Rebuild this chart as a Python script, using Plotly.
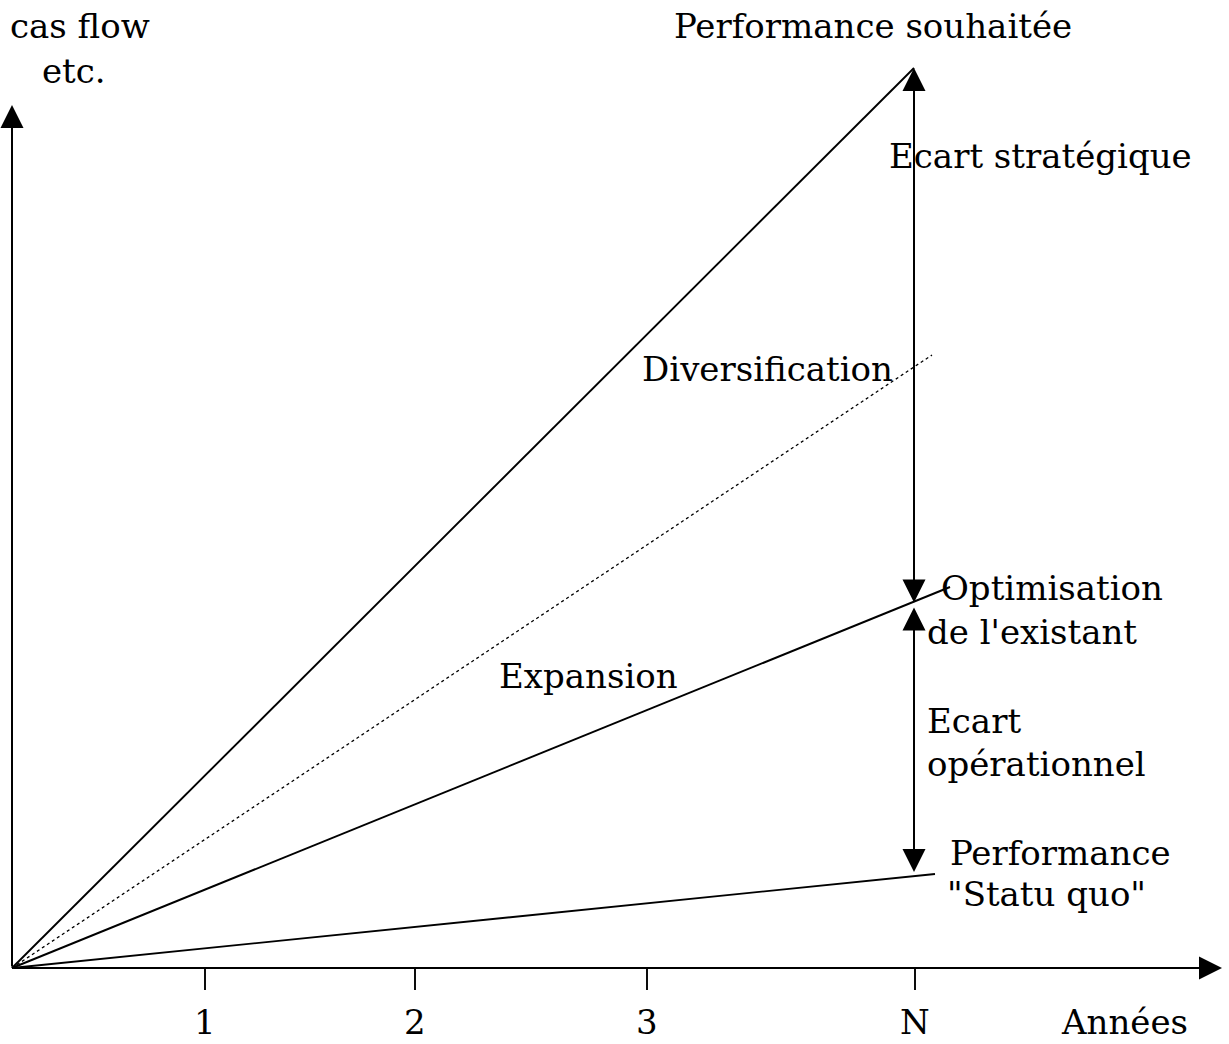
import plotly.graph_objects as go

# --- data (arbitrary performance units; x in "year" units of the diagram) ---
origin = (0.0, 0.0)
line_names = ["Performance souhaitée", "Diversification", "Optimisation", "Statu quo"]
line_end_x = [9.02, 9.20, 9.38, 9.23]
line_end_y = [9.00, 6.13, 3.81, 0.94]
line_dash = ["solid", "dot", "solid", "solid"]

tick_labels = ["1", "2", "3", "N"]
tick_pos = [1.93, 4.03, 6.35, 9.03]

gap_x = 9.02
gap_strat = (3.64, 9.00)
gap_oper = (3.62, 0.96)

x_axis_end = 12.10
y_axis_end = 8.63

FONT = "DejaVu Serif"
FS = 34

fig = go.Figure()

for name, ex, ey, d in zip(line_names, line_end_x, line_end_y, line_dash):
    fig.add_trace(go.Scatter(x=[origin[0], ex], y=[origin[1], ey], mode="lines",
                             line=dict(color="black", width=1.9 if d == "solid" else 1.3, dash=d),
                             name=name, hoverinfo="skip", showlegend=False))

# ticks
for tp in tick_pos:
    fig.add_shape(type="line", x0=tp, x1=tp, y0=0, y1=-0.22, line=dict(color="black", width=1.9))

AS = 2.3
AW = 2
anns = []
# axes with arrows
anns.append(dict(x=x_axis_end, y=0, ax=0, ay=0, xref="x", yref="y", axref="x", ayref="y",
                 showarrow=True, arrowhead=2, arrowsize=AS, arrowwidth=AW, arrowcolor="black", text=""))
anns.append(dict(x=0, y=y_axis_end, ax=0, ay=0, xref="x", yref="y", axref="x", ayref="y",
                 showarrow=True, arrowhead=2, arrowsize=AS, arrowwidth=AW, arrowcolor="black", text=""))
# gap arrows
for (a, b) in [gap_strat, gap_oper]:
    anns.append(dict(x=gap_x, y=b, ax=gap_x, ay=a, xref="x", yref="y", axref="x", ayref="y",
                     showarrow=True, arrowhead=2, startarrowhead=2, arrowside="end+start",
                     arrowsize=AS, startarrowsize=AS, arrowwidth=AW, arrowcolor="black", text=""))

# tick labels
for lab, tp in zip(tick_labels, tick_pos):
    anns.append(dict(x=tp, y=-0.54, text=lab, showarrow=False, xanchor="center", yanchor="middle"))
anns.append(dict(x=11.12, y=-0.54, text="Années", showarrow=False, xanchor="center", yanchor="middle"))

texts = [
    (8.61, 9.42, "Performance souhaitée", "center"),
    (8.75, 8.12, "Ecart stratégique", "left"),
    (6.28, 5.99, "Diversification", "left"),
    (9.27, 3.80, "Optimisation", "left"),
    (9.13, 3.36, "de l'existant", "left"),
    (4.85, 2.92, "Expansion", "left"),
    (9.13, 2.47, "Ecart", "left"),
    (9.13, 2.04, "opérationnel", "left"),
    (9.36, 1.15, "Performance", "left"),
    (9.33, 0.74, "\"Statu quo\"", "left"),
    (1.40, 9.42, "cas flow", "right"),
    (0.96, 8.97, "etc.", "right"),
]
for x, y, t, anc in texts:
    anns.append(dict(x=x, y=y, text=t, showarrow=False, xanchor=anc, yanchor="middle"))

fig.update_layout(
    width=1229, height=1044,
    margin=dict(l=0, r=0, t=0, b=0),
    plot_bgcolor="white", paper_bgcolor="white",
    font=dict(family=FONT, size=FS, color="black"),
    xaxis=dict(range=[-0.12, 12.17], visible=False, fixedrange=True),
    yaxis=dict(range=[-0.76, 9.68], visible=False, fixedrange=True),
    annotations=anns,
    showlegend=False,
)

fig.write_html("out.html", config={"displayModeBar": False},
               post_script="document.body.style.margin='0';")
